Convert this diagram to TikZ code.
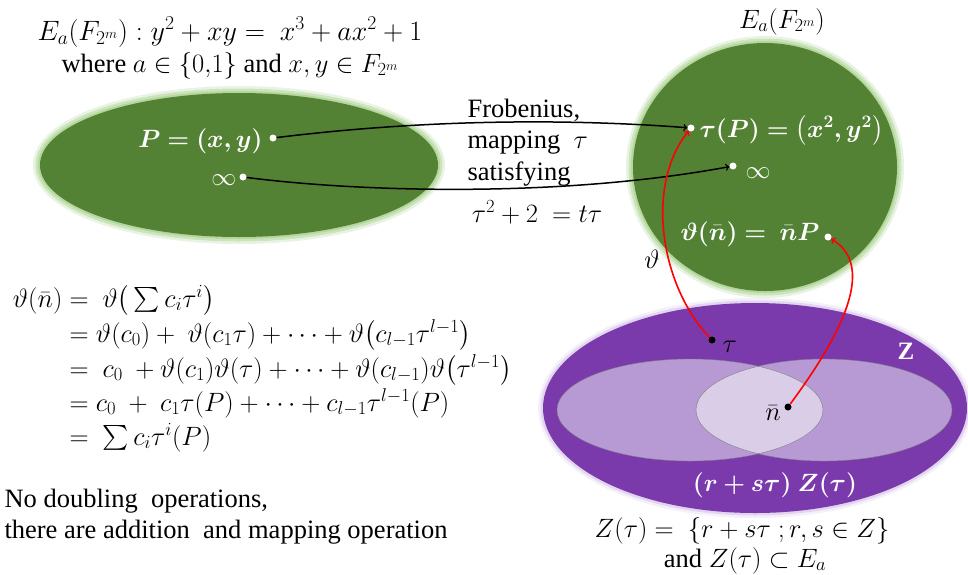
\documentclass[tikz,border=0pt]{standalone}
\usepackage{fix-cm}
\usepackage{amsmath,bm}
\usepackage{fontspec}
\setmainfont{Liberation Serif}
\newfontfamily\timesfont{Liberation Serif}
\usetikzlibrary{positioning}

\definecolor{setgreen}{RGB}{84,130,53}
\definecolor{glowgreen}{RGB}{169,209,142}
\definecolor{setpurple}{RGB}{123,58,172}
\definecolor{glowpurple}{RGB}{200,175,225}
\definecolor{lilac}{RGB}{183,153,212}
\definecolor{palelilac}{RGB}{218,205,232}

\begin{document}
\begin{tikzpicture}[x=1pt, y=-1pt, node distance=3pt,
    every node/.style={font=\timesfont\fontsize{26.5}{32}\selectfont},
    inlbl/.style={text=white,font=\timesfont\fontsize{25}{32}\selectfont},
    dot/.style={circle,fill=white,inner sep=0pt,minimum size=7pt},
    bdot/.style={circle,fill=black,inner sep=0pt,minimum size=7pt},
    flow/.style={->,line width=1.5pt,black},
    mapto/.style={->,line width=1.6pt,red}]
    \useasboundingbox (0,0) rectangle (968,574);

    % sets
    \foreach \w/\o in {14/0.25,9/0.45,4/0.7} {
        \draw[glowgreen,line width=\w pt,opacity=\o] (239,165) ellipse [x radius=199pt, y radius=72pt];
        \draw[glowgreen,line width=\w pt,opacity=\o] (765,167) ellipse [x radius=132pt, y radius=124pt];
    }
    \foreach \w/\o in {10/0.2,5/0.4} {
        \draw[glowpurple,line width=\w pt,opacity=\o] (755,408) ellipse [x radius=212pt, y radius=105pt];
    }
    \fill[setgreen] (239,165) ellipse [x radius=199pt, y radius=72pt];
    \fill[setgreen] (765,167) ellipse [x radius=132pt, y radius=124pt];
    \fill[setpurple] (755,408) ellipse [x radius=212pt, y radius=105pt];
    \fill[lilac] (690,410) ellipse [x radius=133pt, y radius=51pt];
    \fill[lilac] (824,410) ellipse [x radius=128pt, y radius=51pt];
    \begin{scope}
        \clip (690,410) ellipse [x radius=133pt, y radius=51pt];
        \fill[palelilac] (824,410) ellipse [x radius=128pt, y radius=51pt];
    \end{scope}
    \draw[gray] (690,410) ellipse [x radius=133pt, y radius=51pt];
    \draw[gray] (824,410) ellipse [x radius=128pt, y radius=51pt];

    % captions
    \node[anchor=base,font=\timesfont\fontsize{28}{32}\selectfont] (curveEq) at (230,40) {$E_a(F_{2^m}) : y^2+xy = \ x^3+ax^2+1$};
    \node[anchor=base] (curveCond) at (230,72) {where $a\in\{0{,}1\}$ and $x,y\in F_{2^m}$};
    \node[anchor=base] (rightTitle) at (782,28) {$E_a(F_{2^m})$};
    \node[anchor=base west] (frobA) at (464,117) {Frobenius,};
    \node[anchor=base west] (frobB) at (464,148) {mapping~~$\tau$};
    \node[anchor=base west] (frobC) at (464,180) {satisfying};
    \node[anchor=base] (charEq) at (537,222) {$\tau^2+2 \ = t\tau$};

    % points
    \node[dot] (pDot) at (273,138) {};
    \node[inlbl,anchor=base east] (pLbl) at (266,147) {$\bm{P=(x,y)}$};
    \node[dot] (infDot) at (243,177) {};
    \node[inlbl,anchor=base east] (infLbl) at (240,185) {$\infty$};
    \node[dot] (tpDot) at (691,128) {};
    \node[inlbl,anchor=base west] (tpLbl) at (696,137) {$\bm{\tau(P) = \big(x^2, y^2\big)}$};
    \node[dot] (infTwoDot) at (733,166) {};
    \node[inlbl,anchor=base west] (infTwoLbl) at (742,178) {$\infty$};
    \node[dot] (nPDot) at (828,237) {};
    \node[inlbl,anchor=base east] (nPLbl) at (823,240) {$\bm{\vartheta(\bar n) = \ \bar nP}$};
    \node[bdot] (tauDot) at (712,340) {};
    \node[anchor=base west] (tauLbl) at (719,352) {$\tau$};
    \node[bdot] (nDot) at (788,407) {};
    \node[anchor=base] (nLbl) at (773,420) {$\bar n$};
    \node[inlbl,anchor=base] (zLbl) at (906,359) {$\mathbf{Z}$};
    \node[inlbl,anchor=base] (ztLbl) at (775,491) {$\bm{(r+s\tau)\ Z(\tau)}$};
    \node[anchor=base] (zDef) at (742,537) {$Z(\tau) = \ \{r+s\tau\;; r,s\in Z\}$};
    \node[anchor=base] (zSub) at (745,567) {and $Z(\tau)\subset E_a$};
    \node[anchor=base] (thetaLbl) at (652,268) {$\vartheta$};

    % derivation
    \node[anchor=base east] (lineA) at (66,307) {$\vartheta(\bar n)$};
    \node[anchor=base west] (lineAr) at (66,307) {$= \ \vartheta\big(\textstyle\sum c_i\tau^i\big)$};
    \node[anchor=base west] (lineB) at (66,342) {$= \vartheta(c_0) + \ \vartheta(c_1\tau) + \dots + \vartheta\big(c_{l-1}\tau^{l-1}\big)$};
    \node[anchor=base west] (lineC) at (66,377) {$= \ c_0 \ + \vartheta(c_1)\vartheta(\tau) + \dots + \vartheta(c_{l-1})\vartheta\big(\tau^{l-1}\big)$};
    \node[anchor=base west] (lineD) at (66,411) {$= c_0 \ + \ c_1\tau(P) + \dots + c_{l-1}\tau^{l-1}(P)$};
    \node[anchor=base west] (lineE) at (66,445) {$= \ \textstyle\sum c_i\tau^i(P)$};
    \node[anchor=base west] (noteA) at (1,507) {No doubling \ operations,};
    \node[anchor=base west] (noteB) at (1,538) {there are addition \ and mapping operation};

    % maps
    \draw[flow] (pDot) .. controls (420,120) and (560,118) .. (tpDot);
    \draw[flow] (infDot) .. controls (360,192) and (560,198) .. (infTwoDot);
    \draw[mapto] (tauDot) .. controls (660,285) and (645,185) .. (tpDot);
    \draw[mapto] (nDot) .. controls (845,330) and (875,265) .. (nPDot);
\end{tikzpicture}
\end{document}
